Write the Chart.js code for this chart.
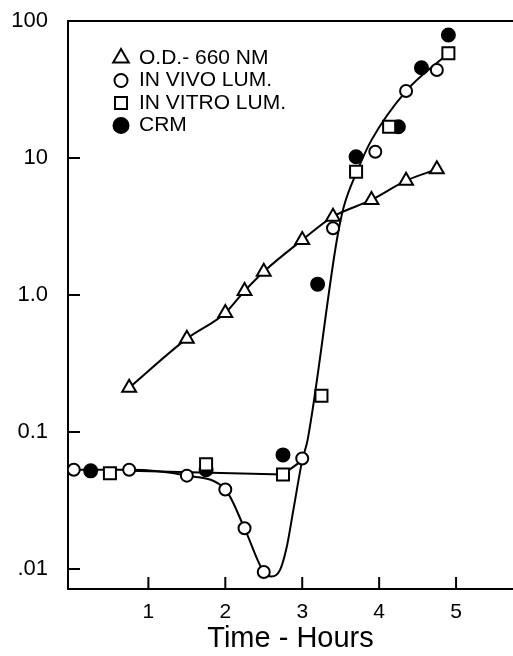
<!DOCTYPE html>
<html>
<head>
<meta charset="utf-8">
<script src="https://cdn.jsdelivr.net/npm/chart.js@4/dist/chart.umd.min.js"></script>
<style>
  html, body { margin: 0; padding: 0; background: #fff; overflow: hidden; }
  canvas { display: block; }
</style>
</head>
<body>
<canvas id="chart" width="513" height="656"></canvas>
<script>
// O.D. 660 nm (triangles)
const odX = [0.75, 1.5, 2.0, 2.25, 2.5, 3.0, 3.4, 3.9, 4.35, 4.75];
const odY = [0.21, 0.48, 0.74, 1.07, 1.48, 2.52, 3.73, 4.94, 6.83, 8.27];
// in vivo luminescence (open circles)
const vivoX = [0.03, 0.75, 1.5, 2.0, 2.25, 2.5, 3.0, 3.4, 3.95, 4.35, 4.75];
const vivoY = [0.053, 0.053, 0.048, 0.038, 0.0198, 0.0095, 0.064, 3.07, 11.1, 30.8, 43.9];
// in vitro luminescence (open squares)
const vitroX = [0.5, 1.75, 2.75, 3.25, 3.7, 4.13, 4.9];
const vitroY = [0.050, 0.058, 0.049, 0.184, 7.94, 16.9, 58.1];
// CRM (filled circles)
const crmX = [0.25, 1.75, 2.75, 3.2, 3.7, 4.25, 4.55, 4.9];
const crmY = [0.052, 0.053, 0.068, 1.2, 10.2, 16.9, 45.6, 79];
// hand-drawn luminescence curve
const lumCurveX = [0.03, 0.75, 1.5, 2.0, 2.25, 2.5, 2.6, 2.71, 2.8, 2.885, 3.0, 3.07, 3.45, 3.54, 3.71, 3.9, 4.35, 4.9];
const lumCurveY = [0.053, 0.053, 0.048, 0.038, 0.0198, 0.0095, 0.0088, 0.0098, 0.0146, 0.027, 0.062, 0.0875, 2.52, 4.4, 7.94, 13.5, 30.8, 58.1];
// straight line joining the flat points
const flatX = [0.75, 2.75, 3.0];
const flatY = [0.052, 0.049, 0.062];

const xTicks = [1, 2, 3, 4, 5];
const yTicks = [0.01, 0.1, 1, 10, 100];
const yTickLabels = ['.01', '0.1', '1.0', '10', '100'];
const labels = ['O.D.- 660 NM', 'IN VIVO LUM.', 'IN VITRO LUM.', 'CRM'];

const FONT = "'Liberation Sans', Arial, Helvetica, sans-serif";
const zip = (xs, ys) => xs.map((x, i) => ({ x: x, y: ys[i] }));

const frame = {
  id: 'frame',
  beforeDatasetsDraw(chart) {
    const { ctx, chartArea: a, scales: { x, y } } = chart;
    ctx.save();
    ctx.strokeStyle = '#000';
    ctx.lineWidth = 2;
    ctx.beginPath();
    ctx.moveTo(a.left, a.top);
    ctx.lineTo(a.right, a.top);
    xTicks.forEach(v => {
      const px = x.getPixelForValue(v);
      ctx.moveTo(px, a.bottom);
      ctx.lineTo(px, a.bottom - 12);
    });
    yTicks.forEach(v => {
      const py = y.getPixelForValue(v);
      ctx.moveTo(a.left, py);
      ctx.lineTo(a.left + 12, py);
    });
    ctx.stroke();
    ctx.restore();
  },
  afterDraw(chart) {
    const ctx = chart.ctx;
    ctx.save();
    ctx.font = '21px ' + FONT;
    ctx.textBaseline = 'middle';
    chart.data.datasets.slice(0, 4).forEach((ds, i) => {
      const cy = 58 + i * 22.5;
      ctx.strokeStyle = '#000';
      ctx.lineWidth = 2;
      ctx.fillStyle = ds.pointBackgroundColor;
      Chart.helpers.drawPoint(ctx, {
        pointStyle: ds.pointStyle,
        radius: ds.legendRadius,
        borderWidth: 2
      }, 121, cy);
      ctx.fillStyle = '#000';
      ctx.fillText(ds.label, 139, cy);
    });
    ctx.restore();
  }
};

const markerBase = {
  type: 'line',
  showLine: false,
  borderColor: '#000',
  pointBorderColor: '#000',
  pointBorderWidth: 2,
  order: 0
};

new Chart(document.getElementById('chart').getContext('2d'), {
  type: 'line',
  data: {
    datasets: [
      Object.assign({}, markerBase, {
        label: labels[0],
        data: zip(odX, odY),
        showLine: true,
        borderWidth: 2,
        cubicInterpolationMode: 'monotone',
        pointStyle: 'triangle',
        pointRadius: 8,
        legendRadius: 9,
        pointBackgroundColor: '#fff'
      }),
      Object.assign({}, markerBase, {
        label: labels[1],
        data: zip(vivoX, vivoY),
        pointStyle: 'circle',
        pointRadius: 6,
        legendRadius: 6.5,
        pointBackgroundColor: '#fff'
      }),
      Object.assign({}, markerBase, {
        label: labels[2],
        data: zip(vitroX, vitroY),
        pointStyle: 'rect',
        pointRadius: 8.5,
        legendRadius: 8.5,
        pointBackgroundColor: '#fff'
      }),
      Object.assign({}, markerBase, {
        label: labels[3],
        data: zip(crmX, crmY),
        pointStyle: 'circle',
        pointRadius: 6.5,
        legendRadius: 7.5,
        pointBackgroundColor: '#000'
      }),
      {
        label: 'lum curve',
        data: zip(lumCurveX, lumCurveY),
        borderColor: '#000',
        borderWidth: 2,
        pointRadius: 0,
        cubicInterpolationMode: 'monotone',
        order: 5
      },
      {
        label: 'flat line',
        data: zip(flatX, flatY),
        borderColor: '#000',
        borderWidth: 2,
        pointRadius: 0,
        tension: 0,
        order: 5
      }
    ]
  },
  options: {
    responsive: false,
    animation: false,
    layout: { autoPadding: false, padding: { top: 21, right: 0, bottom: 0, left: 0 } },
    plugins: { legend: { display: false }, tooltip: { enabled: false } },
    scales: {
      x: {
        type: 'linear',
        min: -0.045,
        max: 5.74,
        afterFit: s => { s.height = 67; s.paddingLeft = 0; s.paddingRight = 0; },
        afterBuildTicks: s => { s.ticks = xTicks.map(v => ({ value: v })); },
        grid: { display: false, drawTicks: false },
        border: { display: true, color: '#000', width: 2 },
        ticks: {
          color: '#000',
          padding: 11,
          font: { family: FONT, size: 21 },
          callback: v => String(v)
        },
        title: {
          display: true,
          text: 'Time - Hours',
          color: '#000',
          font: { family: FONT, size: 29 },
          padding: { top: 0, bottom: 0 }
        }
      },
      y: {
        type: 'logarithmic',
        min: 0.00714,
        max: 100,
        afterFit: s => { s.width = 68; s.paddingTop = 0; s.paddingBottom = 0; },
        afterBuildTicks: s => { s.ticks = yTicks.map(v => ({ value: v })); },
        grid: { display: false, drawTicks: false },
        border: { display: true, color: '#000', width: 2 },
        ticks: {
          color: '#000',
          padding: 20,
          font: { family: FONT, size: 22 },
          callback: v => yTickLabels[yTicks.indexOf(v)] ?? ''
        }
      }
    }
  },
  plugins: [frame]
});
</script>
</body>
</html>
